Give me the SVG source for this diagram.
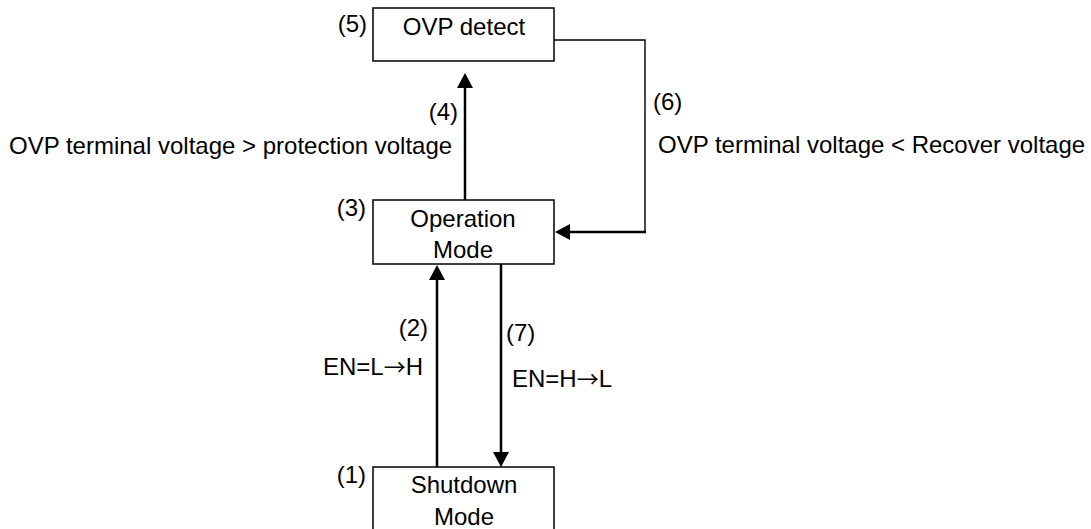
<svg xmlns="http://www.w3.org/2000/svg" width="1091" height="529" viewBox="0 0 1091 529">
<style>
text{font-family:"Liberation Sans",Arial,sans-serif;font-size:24px;fill:#000}
.arr{font-family:"Noto Sans CJK JP","DejaVu Sans",sans-serif;font-size:22px}
.box{fill:#fff;stroke:#000;stroke-width:1.5}
.c{text-anchor:middle}
.e{text-anchor:end}
.line{fill:none;stroke:#000;stroke-width:2.5}
.thin{fill:none;stroke:#000;stroke-width:1.4}
.head{fill:#000;stroke:none}
</style>
<rect width="1091" height="529" fill="#fff"/>
<g id="connectors">
<line class="line" x1="465" y1="200" x2="465" y2="86"/>
<polygon class="head" points="465,73 457,88 473,88"/>
<polyline class="thin" points="554,40 645,40 645,232"/>
<line class="line" x1="646" y1="232" x2="568" y2="232"/>
<polygon class="head" points="555,232 570,224 570,240"/>
<line class="line" x1="437" y1="467" x2="437" y2="278"/>
<polygon class="head" points="437,265 429,280 445,280"/>
<line class="line" x1="501" y1="264" x2="501" y2="454"/>
<polygon class="head" points="501,467 493,452 509,452"/>
<text class="e" x="458" y="120">(4)</text>
<text x="9" y="154">OVP terminal voltage &gt; protection voltage</text>
<text x="653" y="110">(6)</text>
<text x="658" y="153">OVP terminal voltage &lt; Recover voltage</text>
<text class="e" x="428" y="336">(2)</text>
<text class="e" x="423" y="375">EN=L<tspan class="arr">→</tspan>H</text>
<text x="506" y="341">(7)</text>
<text x="512" y="387">EN=H<tspan class="arr">→</tspan>L</text>
</g>
<g id="ovp-detect">
<rect class="box" x="373" y="8" width="181" height="53"/>
<text class="c" x="464" y="35">OVP detect</text>
<text class="e" x="367" y="32">(5)</text>
</g>
<g id="operation-mode">
<rect class="box" x="373" y="200" width="181" height="64"/>
<text class="c" x="463" y="227">Operation</text>
<text class="c" x="463" y="258">Mode</text>
<text class="e" x="366" y="216">(3)</text>
</g>
<g id="shutdown-mode">
<rect class="box" x="373" y="467" width="181" height="70"/>
<text class="c" x="464" y="493">Shutdown</text>
<text class="c" x="464" y="525">Mode</text>
<text class="e" x="366" y="483">(1)</text>
</g>
</svg>
